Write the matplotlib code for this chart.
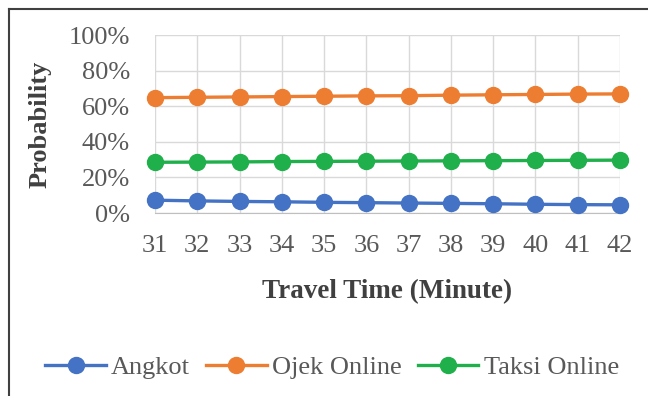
import matplotlib
matplotlib.use("Agg")
import matplotlib.pyplot as plt
from matplotlib.lines import Line2D
from matplotlib.ticker import PercentFormatter

travel_time = [31, 32, 33, 34, 35, 36, 37, 38, 39, 40, 41, 42]
angkot = [0.072, 0.068, 0.065, 0.063, 0.060, 0.058, 0.056, 0.054, 0.052, 0.049, 0.047, 0.046]
ojek_online = [0.648, 0.650, 0.652, 0.654, 0.656, 0.658, 0.659, 0.662, 0.664, 0.666, 0.668, 0.669]
taksi_online = [0.285, 0.286, 0.287, 0.289, 0.290, 0.291, 0.292, 0.293, 0.294, 0.295, 0.296, 0.297]

plt.rcParams['font.family'] = ['Liberation Serif', 'DejaVu Serif']

fig = plt.figure(figsize=(6.48, 3.96), dpi=100)
ax = fig.add_axes([155 / 648, 1 - 213 / 396, 465 / 648, 178 / 396])

series = [("Angkot", angkot, "#4472C4"),
          ("Ojek Online", ojek_online, "#ED7D31"),
          ("Taksi Online", taksi_online, "#1FAF4B")]
for name, vals, col in series:
    ax.plot(travel_time, vals, color=col, lw=2.4, marker='o', ms=11.5,
            label=name, clip_on=False, zorder=3)

ax.set_xlim(31, 42)
ax.set_ylim(0, 1)
ax.set_xticks(travel_time)
ax.set_yticks([0, 0.2, 0.4, 0.6, 0.8, 1.0])
ax.yaxis.set_major_formatter(PercentFormatter(1.0, decimals=0))
ax.grid(True, color="#D9D9D9", lw=1)
ax.set_axisbelow(True)
for s in ["top", "right", "left"]:
    ax.spines[s].set_visible(False)
ax.spines["bottom"].set_color("#BFBFBF")
ax.tick_params(length=0, labelsize=19, colors="#595959")
ax.tick_params(axis='y', pad=18)
ax.tick_params(axis='x', pad=16)

ax.set_xlabel("Travel Time (Minute)", fontsize=19.5, fontweight='bold', color="#404040", labelpad=16)
ax.set_ylabel("Probability", fontsize=19, fontweight='bold', color="#404040", labelpad=12)

fig.legend(loc='center', bbox_to_anchor=(332 / 648, 1 - 367 / 396), ncol=3,
           frameon=False, fontsize=19, handlelength=2.3, handletextpad=0.2,
           columnspacing=0.6, labelcolor="#595959")

# outer frame
fig.add_artist(Line2D([9 / 648, 9 / 648], [0, 1 - 9 / 396], color="#404040", lw=1.5))
fig.add_artist(Line2D([9 / 648, 1], [1 - 9 / 396, 1 - 9 / 396], color="#404040", lw=1.5))

fig.savefig("out.png", dpi=100)
